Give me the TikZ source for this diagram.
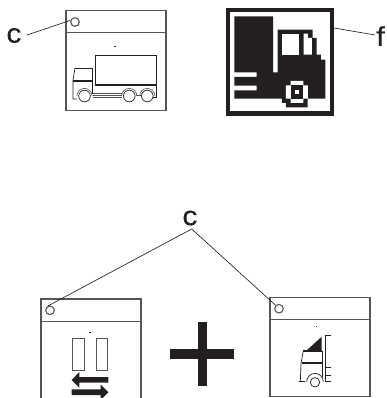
\documentclass[tikz,border=0pt]{standalone}
\usepackage{fontspec}
\setmainfont[FakeBold=0.25,FakeStretch=1.12]{Liberation Sans}
\usetikzlibrary{positioning,calc}
\definecolor{ink}{HTML}{231F20}
\definecolor{rim}{HTML}{555555}

\begin{document}
\begin{tikzpicture}[x=1pt,y=-1pt,
          panel/.style={rim, line width=1.1pt},
          led/.style={circle, draw=rim, line width=1.1pt, minimum size=8.6pt, inner sep=0pt},
          leader/.style={ink, line width=0.65pt},
          part/.style={ink, line width=0.7pt},
          heavy/.style={ink, line width=1.8pt},
          guard/.style={rim, line width=0.6pt},
          tag/.style={inner sep=0pt, font=\fontsize{27}{27}\selectfont, text=ink}
        ]
          \useasboundingbox (0,0) rectangle (386,398);

          % Kasten oben links
          \draw[panel] (66,10.7) rectangle (166,110.7);
          \draw[panel] (66,32.7) -- (166,32.7);
          \node[led] (ledA) at (75,22) {};
          \node[tag] (tagA) at (14,35.5) {c};
          \coordinate (tagAend) at (27,35);
          \draw[leader] (tagAend) -- (ledA.160);
          \fill[ink] (114.3,45.8) rectangle (115.9,46.6);

          % LKW
          \draw[part] (95,84) -- (95,55) -- (156.5,55) -- (156.5,97) -- (153,97);
          \draw[heavy] (95,84.8) -- (156.5,84.8);
          \draw[part] (75,68) -- (92.5,68) -- (92.5,94);
          \draw[part] (75,68) -- (73,80) -- (73,99) -- (77,99);
          \draw[heavy] (73,81) -- (92.5,81);
          \draw[guard] (92.5,93.5) -- (122,93.5);
          \draw[guard] (92.5,95.5) -- (122,95.5);
          \draw[guard] (92.5,97.5) -- (122,97.5);
          \draw[guard] (136,95) -- (141,95);
          \foreach \wx in {84.5,129.3,147.3} {
            \draw[part] (\wx,96) circle (5.8);
            \draw[guard] (\wx-7.6,96) arc[start angle=180,end angle=360,radius=7.6];
          }

          % Symbol oben rechts
          \fill[ink] (226,8) rectangle (334,116);
          \fill[white] (230,12.3) rectangle (330,111);
          \begin{scope}[shift={(226,8)},x=0.3333pt,y=-0.3333pt]
            \fill[ink] (25,25) -- (141,25) -- (141,193) -- (155,193) -- (155,65) -- (260,65)
              -- (260,90) -- (272,90) -- (272,140) -- (285,140) -- (285,155) -- (298,155)
              -- (298,272) -- (245,272) -- (245,298) -- (180,298) -- (180,285) -- (168,285)
              -- (168,272) -- (25,272) -- (25,247) -- (92,247) -- (92,233) -- (25,233)
              -- (25,207) -- (92,207) -- (92,193) -- (25,193) -- cycle;
            \fill[white] (168,77) rectangle (220,140);
            \fill[white] (233,77) -- (246,77) -- (246,90) -- (258,90) -- (258,140) -- (233,140) -- cycle;
            \fill[white] (194,219) -- (232,219) -- (232,232) -- (246,232) -- (246,272) -- (232,272)
              -- (232,285) -- (194,285) -- (194,272) -- (180,272) -- (180,232) -- (194,232) -- cycle;
            \fill[ink] (194,232) rectangle (232,272);
            \fill[white] (207,245) rectangle (220,259);
          \end{scope}
          \node[tag] (tagF) at (380.5,36) {f};
          \coordinate (iconEdge) at (334,28);
          \coordinate (tagFend) at (375,35);
          \draw[leader] (iconEdge) -- (tagFend);

          % Bezugslinien unten
          \node[tag] (tagC) at (190,218) {c};
          \coordinate (apex) at (191.7,229);

          % Kasten unten links (unten offen)
          \draw[panel] (41,398) -- (41,299) -- (141,299) -- (141,398);
          \draw[panel] (41,321.7) -- (141,321.7);
          \node[led] (ledB) at (50,310.3) {};
          \fill[ink] (89.3,332) rectangle (90.9,332.8);
          \foreach \rx in {72.3,96} {
            \draw[panel,line width=0.8pt] (\rx,338.3) rectangle ++(11.7,31.7);
          }
          \fill[ink] (71.7,380) -- (79.3,372) -- (79.3,377) -- (108.3,377) -- (108.3,382.7)
            -- (79.3,382.7) -- (79.3,387.7) -- cycle;
          \fill[ink] (108.3,392.3) -- (100.5,384.3) -- (100.5,389.3) -- (71.7,389.3) -- (71.7,395)
            -- (100.5,395) -- (100.5,400) -- cycle;

          % Pluszeichen
          \fill[ink] (170,349) rectangle (234.3,359);
          \fill[ink] (197.7,321.7) rectangle (207.3,386);

          % Kasten unten rechts
          \draw[panel] (270,297.3) rectangle (370,396.7);
          \draw[panel] (270,319.3) -- (370,319.3);
          \node[led] (ledC) at (279,308.7) {};
          \fill[ink] (315.5,326.3) rectangle (317.1,327.1);
          \fill[ink] (306,351) -- (321.7,336.7) -- (321.7,351) -- cycle;
          \draw[part] (331,335) -- (325,335) -- (325,381.7) -- (331,381.7);
          \draw[part] (325,367.7) -- (331,367.7);
          \draw[part] (325,375) -- (331,375);
          \draw[part] (322.3,351) -- (322.3,377);
          \draw[heavy,line width=1.1pt] (303.3,351) -- (322.3,351);
          \draw[heavy] (301.7,363.3) -- (322.3,363.3);
          \draw[part] (303.3,351) -- (301,363.3) -- (300.3,381.7);
          \draw[part] (299.3,381.7) -- (305,381.7);
          \draw[part] (315,382.3) circle (4.7);
          \draw[part] (306.7,381.7) arc[start angle=180,end angle=360,radius=8.3];

          % Bezugslinien
          \draw[leader] (ledB.120) -- (apex) -- (ledC.135);
        \end{tikzpicture}
\end{document}
